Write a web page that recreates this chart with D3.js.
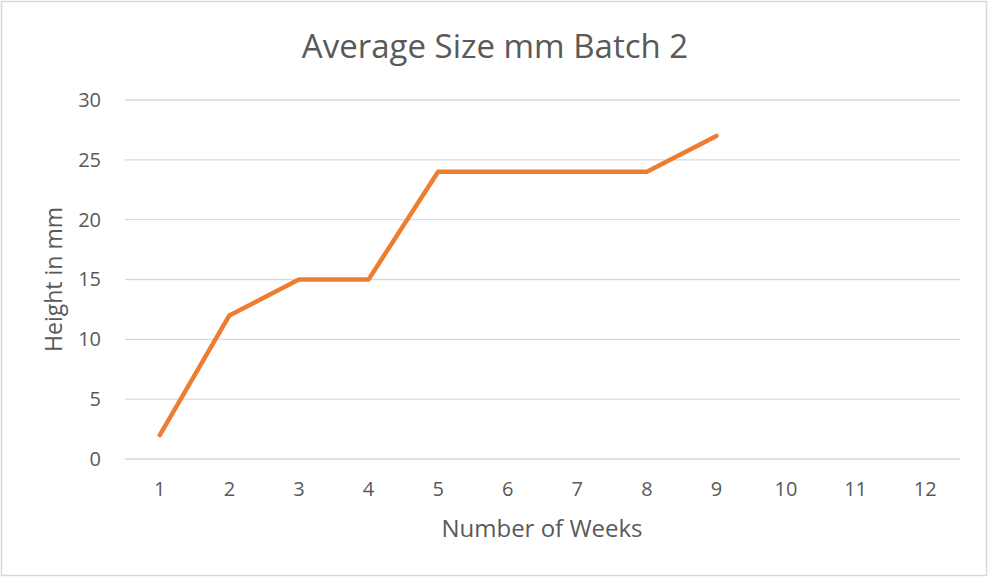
<!DOCTYPE html>
<html lang="en">
<head>
    <meta charset="UTF-8" />
    <title>Average Size mm Batch 2</title>
    <script src="https://d3js.org/d3.v7.min.js"></script>
    <style>
        body { margin: 0; background: #fff; }
        text { font-family: "Open Sans", "Liberation Sans", sans-serif; fill: #595959; }
    </style>
</head>
<body>
    <div id="container"></div>
    <script>
        // data
        const weeks = [1, 2, 3, 4, 5, 6, 7, 8, 9, 10, 11, 12]
        const heights = [2, 12, 15, 15, 24, 24, 24, 24, 27]
        const yTicks = [0, 5, 10, 15, 20, 25, 30]

        const width = 991
        const height = 578
        const margin = { top: 100, right: 31, bottom: 119, left: 125 }

        const svg = d3.select("#container")
            .append("svg")
            .attr("width", width)
            .attr("height", height)

        // chart border
        svg.append("rect")
            .attr("x", 1.5)
            .attr("y", 1.5)
            .attr("width", 985)
            .attr("height", 574)
            .attr("fill", "#fff")
            .attr("stroke", "#d9d9d9")
            .attr("stroke-width", 1.5)

        const x = d3.scaleBand()
            .domain(weeks)
            .range([margin.left, width - margin.right])
            .padding(0)

        const y = d3.scaleLinear()
            .domain([0, 30])
            .range([height - margin.bottom, margin.top])

        // gridlines
        svg.append("g")
            .selectAll("line")
            .data(yTicks)
            .join("line")
            .attr("x1", margin.left)
            .attr("x2", width - margin.right)
            .attr("y1", d => y(d))
            .attr("y2", d => y(d))
            .attr("stroke", "#d9d9d9")
            .attr("stroke-width", 1.3)

        // y axis labels
        const yAxis = svg.append("g")
            .attr("transform", `translate(${margin.left - 24},0)`)
            .call(d3.axisLeft(y).tickValues(yTicks).tickSize(0).tickPadding(0))
        yAxis.select(".domain").remove()
        yAxis.selectAll("text")
            .attr("font-size", 20)
            .attr("fill", "#595959")
            .style("font-family", "'Open Sans', sans-serif")

        // x axis labels
        const xAxis = svg.append("g")
            .attr("transform", `translate(0,${height - margin.bottom})`)
            .call(d3.axisBottom(x).tickSize(0).tickPadding(23))
        xAxis.select(".domain").remove()
        xAxis.selectAll("text")
            .attr("font-size", 20)
            .attr("fill", "#595959")
            .style("font-family", "'Open Sans', sans-serif")

        // line
        const line = d3.line()
            .x((d, i) => x(weeks[i]) + x.bandwidth() / 2)
            .y(d => y(d))

        svg.append("path")
            .datum(heights)
            .attr("fill", "none")
            .attr("stroke", "#ed7d31")
            .attr("stroke-width", 4.5)
            .attr("stroke-linejoin", "round")
            .attr("stroke-linecap", "round")
            .attr("d", line)

        // titles
        svg.append("text")
            .attr("x", 495)
            .attr("y", 58)
            .attr("text-anchor", "middle")
            .attr("font-size", 33)
            .text("Average Size mm Batch 2")

        svg.append("text")
            .attr("x", 542)
            .attr("y", 537)
            .attr("text-anchor", "middle")
            .attr("font-size", 24)
            .text("Number of Weeks")

        svg.append("text")
            .attr("transform", `translate(62,${(margin.top + height - margin.bottom) / 2}) rotate(-90)`)
            .attr("text-anchor", "middle")
            .attr("font-size", 23)
            .text("Height in mm")
    </script>
</body>
</html>
